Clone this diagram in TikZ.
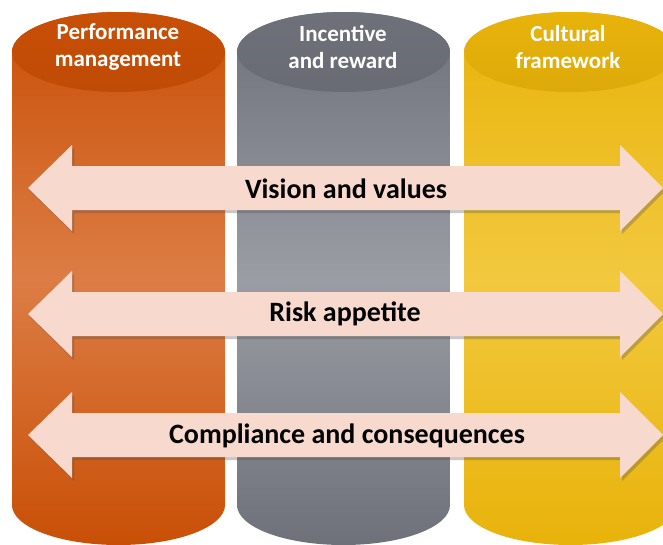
\documentclass[tikz,border=0pt]{standalone}
\usepackage{fontspec}
\setmainfont{Carlito}
\usetikzlibrary{shadows}
\definecolor{arrowfill}{HTML}{F8D9CD}
\definecolor{orA}{HTML}{C94F06}
\definecolor{orB}{HTML}{DC7D45}
\definecolor{grA}{HTML}{6F717A}
\definecolor{grB}{HTML}{9B9DA5}
\definecolor{yeA}{HTML}{E8B30A}
\definecolor{yeB}{HTML}{F2C83E}
\tikzset{
  header/.style={text=white,font=\bfseries\fontsize{23}{27}\selectfont,align=center},
  arrowlabel/.style={text=black,font=\bfseries\fontsize{28}{32}\selectfont},
  arrowbody/.style={fill=arrowfill,draw=none,drop shadow={shadow xshift=2pt,shadow yshift=-3pt,opacity=0.3,fill=black!70}},
}
\newcommand{\mycyl}[3]{% center x, colour A, colour B
  \shade[top color=#2,bottom color=#2,middle color=#3]
    (#1-106.5,52) arc[start angle=180,end angle=360,x radius=106.5,y radius=40]
    -- (#1+106.5,505) arc[start angle=0,end angle=180,x radius=106.5,y radius=40] -- cycle;
  \shade[top color=#2,bottom color=#2!95!black]
    (#1,52) ellipse[x radius=106.5,y radius=40];
}
\newcommand{\dblarrow}[1]{%
  (28,#1) -- (72,#1-43) -- (72,#1-22) -- (620,#1-22) -- (620,#1-43) -- (663,#1)
  -- (620,#1+43) -- (620,#1+22) -- (72,#1+22) -- (72,#1+43) -- cycle}
\begin{document}
\begin{tikzpicture}[x=1pt,y=-1pt]
\useasboundingbox (0,0) rectangle (663,544);
\clip (0,0) rectangle (663,544);
\fill[white] (0,0) rectangle (663,544);
\mycyl{118.5}{orA}{orB}
\mycyl{343.5}{grA}{grB}
\mycyl{570.5}{yeA}{yeB}
\node[header] (h1) at (118,47) {Performance\\management};
\node[header] (h2) at (343,47) {Incentive\\and reward};
\node[header] (h3) at (568,47) {Cultural\\framework};
\path[arrowbody] \dblarrow{188};
\path[arrowbody] \dblarrow{314};
\path[arrowbody] \dblarrow{435};
\node[arrowlabel] (a1) at (346,189) {Vision and values};
\node[arrowlabel] (a2) at (345,314) {Risk appetite};
\node[arrowlabel] (a3) at (347,436) {Compliance and consequences};
\end{tikzpicture}
\end{document}
